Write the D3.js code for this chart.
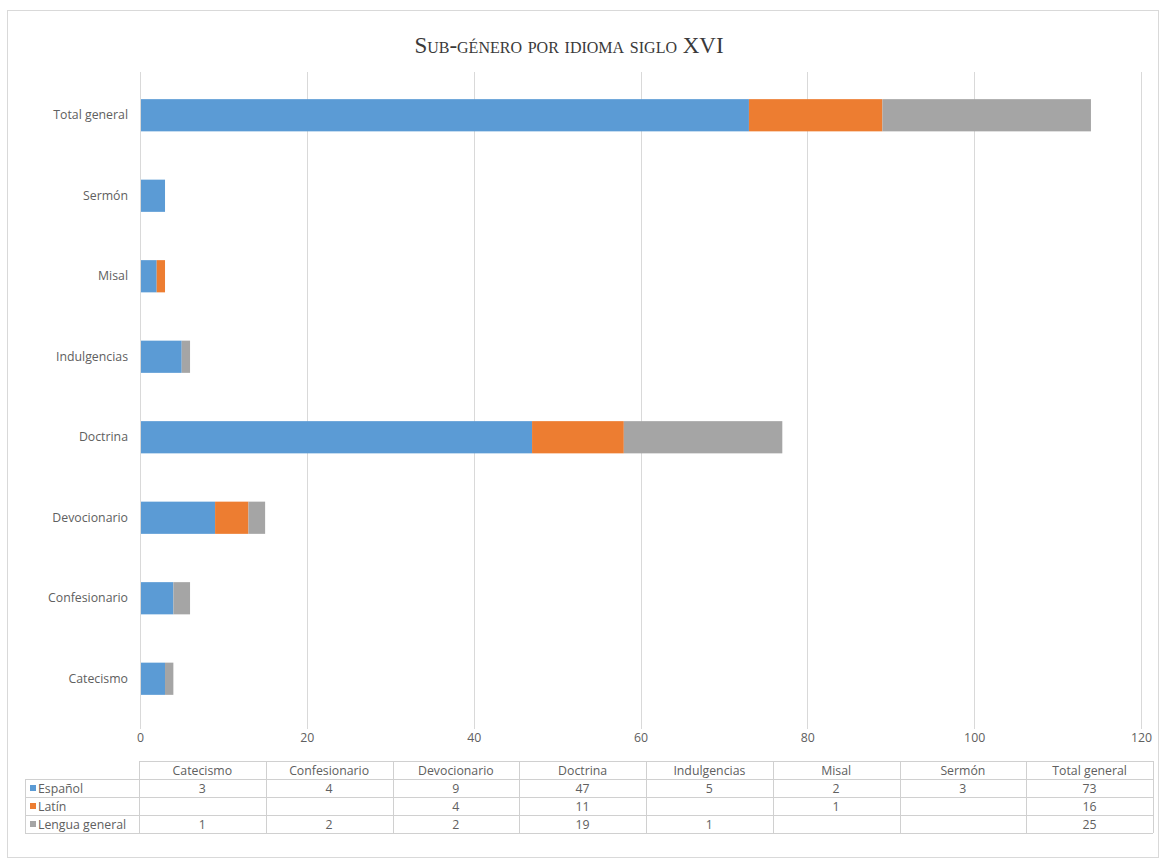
<!DOCTYPE html>
<html>
<head>
<meta charset="utf-8">
<script src="https://cdn.jsdelivr.net/npm/d3@7"></script>
<style>
  body { margin: 0; background: #fff; }
  svg text { font-family: "Open Sans", "Noto Sans", sans-serif; }
</style>
</head>
<body>
<svg id="chart" width="1163" height="867"></svg>
<script>
// Sub-genres (bottom to top in the chart, left to right in the table)
const categories = ["Catecismo", "Confesionario", "Devocionario", "Doctrina", "Indulgencias", "Misal", "Sermón", "Total general"];
const seriesNames = ["Español", "Latín", "Lengua general"];
const espanol = [3, 4, 9, 47, 5, 2, 3, 73];
const latin = [null, null, 4, 11, null, 1, null, 16];
const lenguaGeneral = [1, 2, 2, 19, 1, null, null, 25];
const colors = ["#5B9BD5", "#ED7D31", "#A5A5A5"];
const xTicks = [0, 20, 40, 60, 80, 100, 120];
const titleText = "Sub-género por idioma siglo XVI";

const seriesValues = [espanol, latin, lenguaGeneral];
const rows = categories.map((c, i) => {
  const r = { cat: c };
  seriesNames.forEach((s, j) => r[s] = seriesValues[j][i] || 0);
  return r;
});
const stacked = d3.stack().keys(seriesNames)(rows);

const svg = d3.select("#chart");
const plot = { left: 140, right: 1141, top: 75, bottom: 719 };
const labelSize = "12.3px";
const textColor = "#606060";

// outer frame
svg.append("rect").attr("x", 7.5).attr("y", 10.5).attr("width", 1151).attr("height", 847)
  .attr("fill", "#fff").attr("stroke", "#d9d9d9").attr("stroke-width", 1);

// title
svg.append("text").attr("x", 569).attr("y", 53).attr("text-anchor", "middle")
  .style("font-family", "'Liberation Serif', 'DejaVu Serif', serif")
  .style("font-variant", "small-caps").style("font-size", "23px").attr("fill", "#3a3a3a")
  .text(titleText);

const x = d3.scaleLinear().domain([0, 120]).range([plot.left, plot.right]);
const y = d3.scaleBand().domain(categories.slice().reverse()).range([plot.top, plot.bottom]).paddingInner(0.6).paddingOuter(0.3);

// vertical gridlines
svg.append("g").selectAll("line").data(xTicks.slice(1)).join("line")
  .attr("x1", d => Math.round(x(d)) + 0.5).attr("x2", d => Math.round(x(d)) + 0.5)
  .attr("y1", plot.top - 3).attr("y2", plot.bottom + 10)
  .attr("stroke", "#d9d9d9").attr("stroke-width", 1);

// x axis tick labels
const xAxis = d3.axisBottom(x).tickValues(xTicks).tickSize(0).tickPadding(0);
const gx = svg.append("g").attr("transform", `translate(0,${plot.bottom + 14})`).call(xAxis);
gx.select(".domain").remove();
gx.selectAll("text").attr("fill", textColor).style("font-size", labelSize);

// bars
svg.append("g").selectAll("g").data(stacked).join("g")
  .attr("fill", (d, i) => colors[i])
  .selectAll("rect").data(d => d).join("rect")
  .attr("x", d => x(d[0])).attr("width", d => x(d[1]) - x(d[0]))
  .attr("y", d => y(d.data.cat)).attr("height", y.bandwidth());

// category axis
const yAxis = d3.axisLeft(y).tickSize(0).tickPadding(12);
const gy = svg.append("g").attr("transform", `translate(${plot.left},0)`).call(yAxis);
gy.select(".domain").attr("stroke", "#d9d9d9").attr("d", `M0.5,${plot.top - 3}V${plot.bottom + 10}`);
gy.selectAll("text").attr("fill", textColor).style("font-size", labelSize);

// data table below the chart
const table = { top: 761, rowH: 18, left: 25, colStart: 139, right: 1153 };
const colW = (table.right - table.colStart) / categories.length;
const tg = svg.append("g");
const lineColor = "#d0d0d0";
const nRows = seriesNames.length;
const tableBottom = table.top + table.rowH * (nRows + 1);

// horizontal lines
tg.append("line").attr("x1", table.colStart).attr("x2", table.right).attr("y1", table.top + 0.5).attr("y2", table.top + 0.5).attr("stroke", lineColor);
d3.range(1, nRows + 2).forEach(k => {
  const yy = table.top + k * table.rowH + 0.5;
  tg.append("line").attr("x1", table.left).attr("x2", table.right).attr("y1", yy).attr("y2", yy).attr("stroke", lineColor);
});
// vertical lines
tg.append("line").attr("x1", table.left + 0.5).attr("x2", table.left + 0.5)
  .attr("y1", table.top + table.rowH).attr("y2", tableBottom).attr("stroke", lineColor);
d3.range(categories.length + 1).forEach(k => {
  const xx = Math.round(table.colStart + k * colW) + 0.5;
  tg.append("line").attr("x1", xx).attr("x2", xx).attr("y1", table.top).attr("y2", tableBottom).attr("stroke", lineColor);
});
// headers
tg.selectAll("text.hdr").data(categories).join("text").attr("class", "hdr")
  .attr("x", (d, i) => table.colStart + (i + 0.5) * colW).attr("y", table.top + 14)
  .attr("text-anchor", "middle").attr("fill", textColor).style("font-size", labelSize).text(d => d);
// legend cells and values
seriesNames.forEach((s, j) => {
  const ry = table.top + (j + 1) * table.rowH;
  tg.append("rect").attr("x", table.left + 5).attr("y", ry + 6).attr("width", 6).attr("height", 6).attr("fill", colors[j]);
  tg.append("text").attr("x", table.left + 13).attr("y", ry + 14).attr("fill", textColor).style("font-size", labelSize).text(s);
  tg.selectAll(null).data(seriesValues[j]).join("text")
    .attr("x", (d, i) => table.colStart + (i + 0.5) * colW).attr("y", ry + 14)
    .attr("text-anchor", "middle").attr("fill", textColor).style("font-size", labelSize)
    .text(d => d == null ? "" : d);
});
</script>
</body>
</html>
